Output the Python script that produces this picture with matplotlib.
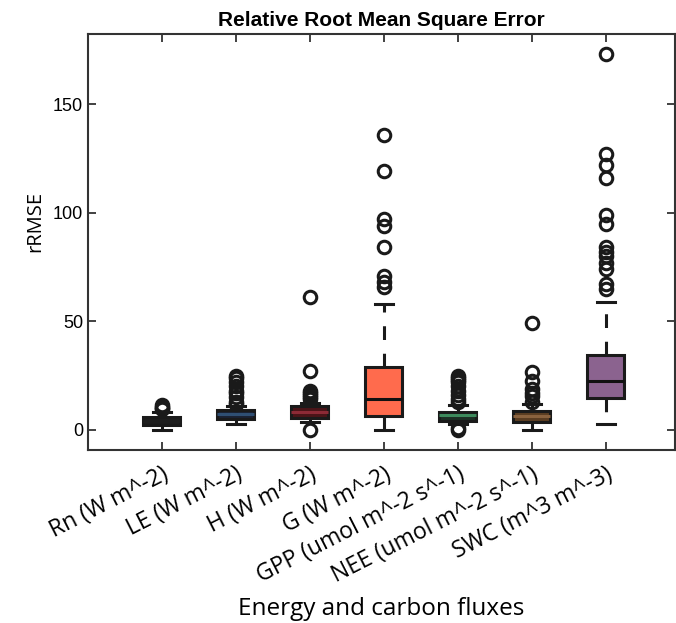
import matplotlib
matplotlib.use("Agg")
import matplotlib.pyplot as plt

# Variables and their box statistics (rRMSE, %)
labels = ['Rn (W m^-2)', 'LE (W m^-2)', 'H (W m^-2)', 'G (W m^-2)',
          'GPP (umol m^-2 s^-1)', 'NEE (umol m^-2 s^-1)', 'SWC (m^3 m^-3)']
q1 = [2.0, 5.1, 5.5, 6.5, 4.1, 3.7, 14.7]
med = [4.0, 7.4, 8.3, 14.0, 6.9, 6.4, 22.5]
q3 = [6.0, 9.2, 11.0, 29.0, 8.3, 8.7, 34.5]
whislo = [0.0, 2.8, 3.7, 0.0, 2.5, 0.0, 2.8]
whishi = [8.0, 11.0, 12.5, 58.0, 11.5, 12.0, 59.0]
fliers = [
    [9.5, 10.0, 10.5, 11.5],
    [12, 13, 15, 17, 18, 20, 22, 24, 25],
    [0, 14, 15, 16, 17, 18, 27, 61],
    [66, 68, 71, 84, 94, 97, 119, 136],
    [0, 1, 13, 14, 16, 18, 20, 22, 23, 24, 25],
    [13, 15.5, 17, 19, 22.5, 26.5, 49],
    [65, 67, 74, 77, 80, 82, 84, 95, 99, 116, 122, 127, 173],
]
face_colors = ['#1e1e1e', '#1b2233', '#4a1418', '#ff6b4d',
               '#1c2e24', '#5b3d22', '#8b638f']
median_colors = ['#1e1e1e', '#2f4f73', '#8c2a36', '#111111',
                 '#3d8a5c', '#8a623e', '#111111']

plt.rcParams['font.family'] = ['Liberation Sans', 'DejaVu Sans']
label_font = ['Open Sans', 'DejaVu Sans']

fig = plt.figure(figsize=(6.76, 6.23), dpi=100)
ax = fig.add_axes([0.130, 0.278, 0.868, 0.667])

stats = []
for i in range(len(labels)):
    stats.append(dict(med=med[i], q1=q1[i], q3=q3[i], whislo=whislo[i],
                      whishi=whishi[i], fliers=fliers[i], label=labels[i]))

bp = ax.bxp(stats, positions=range(1, 8), widths=0.5, patch_artist=True,
            showfliers=True,
            boxprops=dict(linewidth=2.2, edgecolor='#1a1a1a'),
            whiskerprops=dict(linewidth=2.2, color='#1a1a1a', linestyle=(0, (4.5, 4.5))),
            capprops=dict(linewidth=2.2, color='#1a1a1a'),
            medianprops=dict(linewidth=2.2),
            flierprops=dict(marker='o', markersize=9, markerfacecolor='none',
                            markeredgecolor='#1a1a1a', markeredgewidth=2.2))
for box, fc in zip(bp['boxes'], face_colors):
    box.set_facecolor(fc)
for m, mc in zip(bp['medians'], median_colors):
    m.set_color(mc)
for c in bp['caps']:
    xd = c.get_xdata()
    mid = (xd[0] + xd[1]) / 2
    c.set_xdata([mid - 0.125, mid + 0.125])

ax.set_xlim(0, 7.93)
ax.set_ylim(-9.2, 182.2)
ax.set_yticks([0, 50, 100, 150])
ax.set_xticks(range(1, 8))
ax.set_xticklabels(labels, rotation=27, ha='right', rotation_mode='anchor',
                   fontsize=16.5, family=label_font)
ax.tick_params(axis='both', direction='in', length=6, width=1.3,
               top=True, right=True, color='#333333')
ax.tick_params(axis='y', labelsize=13)
ax.tick_params(axis='x', pad=9)
for s in ax.spines.values():
    s.set_linewidth(1.5)
    s.set_color('#333333')

ax.set_title('Relative Root Mean Square Error', fontsize=15, fontweight='bold',
             pad=6)
ax.set_ylabel('rRMSE', fontsize=14.5, family=label_font)
ax.yaxis.set_label_coords(-0.072, 0.55)
ax.set_xlabel('Energy and carbon fluxes', fontsize=17.5, family=label_font)
ax.xaxis.set_label_coords(0.5, -0.355)

fig.savefig('out.png', dpi=100)
